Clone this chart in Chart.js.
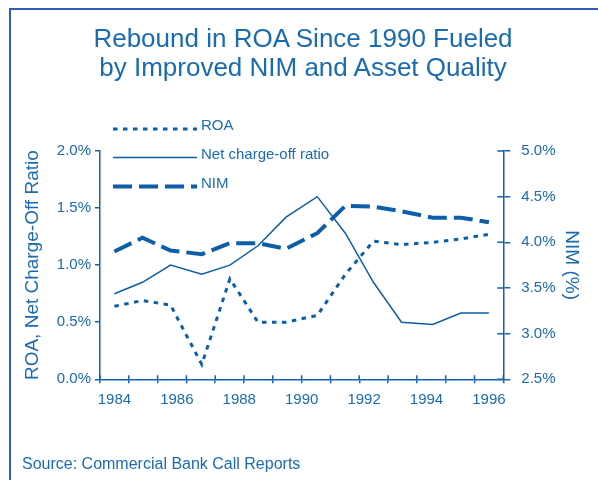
<!DOCTYPE html>
<html>
<head>
<meta charset="utf-8">
<script src="https://cdn.jsdelivr.net/npm/chart.js@4.4.1/dist/chart.umd.min.js"></script>
<style>
  html, body { margin: 0; padding: 0; background: #fff; overflow: hidden; }
  #wrap { position: relative; width: 598px; height: 480px; }
  #frame { position: absolute; left: 9px; top: 8px; right: 0; bottom: 0;
           border-left: 2.5px solid #2f5fb5; border-top: 2.5px solid #2f5fb5; }
  #title { position: absolute; left: 8px; width: 590px; top: 24px; text-align: center;
           font: 26px/29px "Liberation Sans", Arial, sans-serif; color: #1a6bb0; }
  #source { position: absolute; left: 22px; top: 455px;
            font: 16px/18px "Liberation Sans", Arial, sans-serif; color: #1a6bb0; }
  canvas { position: absolute; left: 0; top: 0; }
</style>
</head>
<body>
<div id="wrap">
  <canvas id="chart" width="598" height="480"></canvas>
  <div id="frame"></div>
  <div id="title">Rebound in ROA Since 1990 Fueled<br>by Improved NIM and Asset Quality</div>
  <div id="source">Source: Commercial Bank Call Reports</div>
</div>
<script>
// x position of each observation, in units of the year labels
const periods = [1984.0, 1984.9, 1985.8, 1986.8, 1987.7, 1988.6, 1989.5,
                 1990.5, 1991.4, 1992.3, 1993.2, 1994.2, 1995.1, 1996.0];
const roa = [0.64, 0.69, 0.65, 0.13, 0.88, 0.50, 0.50, 0.56, 0.92, 1.21, 1.18, 1.20, 1.23, 1.27];
const netChargeOff = [0.75, 0.85, 1.00, 0.92, 1.00, 1.17, 1.42, 1.60, 1.28, 0.85, 0.50, 0.48, 0.58, 0.58];
const nim = [3.90, 4.05, 3.91, 3.87, 3.99, 3.99, 3.93, 4.10, 4.40, 4.39, 4.34, 4.27, 4.27, 4.22];
const yearLabels = [1984, 1986, 1988, 1990, 1992, 1994, 1996];
const seriesNames = ['ROA', 'Net charge-off ratio', 'NIM'];

const textColor = '#1a6bb0';
const lineColor = '#0b5fa8';
const axisColor = '#1462aa';

// tick marks sit half way between observations
const step = (periods[periods.length - 1] - periods[0]) / (periods.length - 1);
const boundaries = [];
for (let i = 0; i <= periods.length; i++) boundaries.push(periods[0] + (i - 0.5) * step);
const isBoundary = v => boundaries.some(b => Math.abs(b - v) < 0.01);
const isLabel = v => yearLabels.some(y => Math.abs(y - v) < 0.01);

Chart.defaults.font.family = '"Liberation Sans", Arial, sans-serif';
Chart.defaults.color = textColor;

const toPts = vals => vals.map((v, i) => ({ x: periods[i], y: v }));

const extras = {
  id: 'extras',
  afterDraw(chart) {
    const { ctx, scales: { x, y2 } } = chart;
    ctx.save();
    // inner halves of the crossing tick marks
    ctx.strokeStyle = axisColor;
    ctx.lineWidth = 1.5;
    ctx.beginPath();
    boundaries.forEach(b => {
      const px = x.getPixelForValue(b);
      ctx.moveTo(px, x.top);
      ctx.lineTo(px, x.top - 4);
    });
    y2.ticks.forEach(t => {
      const py = y2.getPixelForValue(t.value);
      ctx.moveTo(y2.left, py);
      ctx.lineTo(y2.left - 6, py);
    });
    ctx.stroke();

    // legend in the upper left
    const rows = [129, 157.5, 186.5];
    chart.data.datasets.forEach((ds, i) => {
      ctx.strokeStyle = ds.borderColor;
      ctx.lineWidth = ds.borderWidth;
      ctx.setLineDash(ds.borderDash || []);
      ctx.beginPath();
      ctx.moveTo(113, rows[i]);
      ctx.lineTo(197, rows[i]);
      ctx.stroke();
      ctx.setLineDash([]);
      ctx.fillStyle = textColor;
      ctx.font = '15px "Liberation Sans", Arial, sans-serif';
      ctx.textBaseline = 'middle';
      ctx.fillText(ds.label, 201, rows[i] - 3);
    });
    ctx.restore();
  }
};

new Chart(document.getElementById('chart'), {
  type: 'line',
  data: {
    datasets: [
      { label: seriesNames[0], data: toPts(roa), yAxisID: 'y',
        borderColor: lineColor, borderWidth: 3, borderDash: [4.5, 5.5] },
      { label: seriesNames[1], data: toPts(netChargeOff), yAxisID: 'y',
        borderColor: lineColor, borderWidth: 1.5 },
      { label: seriesNames[2], data: toPts(nim), yAxisID: 'y2',
        borderColor: lineColor, borderWidth: 4, borderDash: [19, 7] }
    ]
  },
  options: {
    responsive: false,
    animation: false,
    events: [],
    layout: { padding: { top: 151, bottom: 60.7, left: 0, right: 0 } },
    elements: { point: { radius: 0 }, line: { tension: 0, fill: false } },
    plugins: { legend: { display: false }, tooltip: { enabled: false } },
    scales: {
      x: {
        type: 'linear',
        min: boundaries[0],
        max: boundaries[boundaries.length - 1],
        afterFit: s => { s.height = 40; },
        afterBuildTicks: s => {
          const vals = boundaries.concat(yearLabels.filter(y => !isBoundary(y)));
          vals.sort((a, b) => a - b);
          s.ticks = vals.map(v => ({ value: v }));
        },
        ticks: {
          autoSkip: false, maxRotation: 0, padding: 8,
          font: { size: 15 },
          callback: v => isLabel(v) ? String(Math.round(v)) : ''
        },
        grid: {
          drawOnChartArea: false, tickLength: 4, lineWidth: 1.5,
          tickColor: c => (c.tick && isBoundary(c.tick.value)) ? axisColor : 'rgba(0,0,0,0)'
        },
        border: { color: axisColor, width: 1.5 }
      },
      y: {
        position: 'left',
        min: 0, max: 2,
        afterFit: s => { s.width = 100; },
        ticks: { stepSize: 0.5, padding: 4, font: { size: 15 }, callback: v => v.toFixed(1) + '%' },
        grid: { drawOnChartArea: false, tickLength: 5, color: axisColor, lineWidth: 1.5 },
        border: { color: axisColor, width: 1.5 },
        title: { display: true, text: 'ROA, Net Charge-Off Ratio', font: { size: 19 },
                 padding: { top: 21, bottom: 0 } }
      },
      y2: {
        position: 'right',
        min: 2.5, max: 5,
        afterFit: s => { s.width = 94.7; },
        ticks: { stepSize: 0.5, padding: 11, font: { size: 15 }, callback: v => v.toFixed(1) + '%' },
        grid: { drawOnChartArea: false, tickLength: 7, color: axisColor, lineWidth: 1.5 },
        border: { color: axisColor, width: 1.5 },
        title: { display: true, text: 'NIM (%)', font: { size: 19 },
                 padding: { top: 15, bottom: 0 } }
      }
    }
  },
  plugins: [extras]
});
</script>
</body>
</html>
